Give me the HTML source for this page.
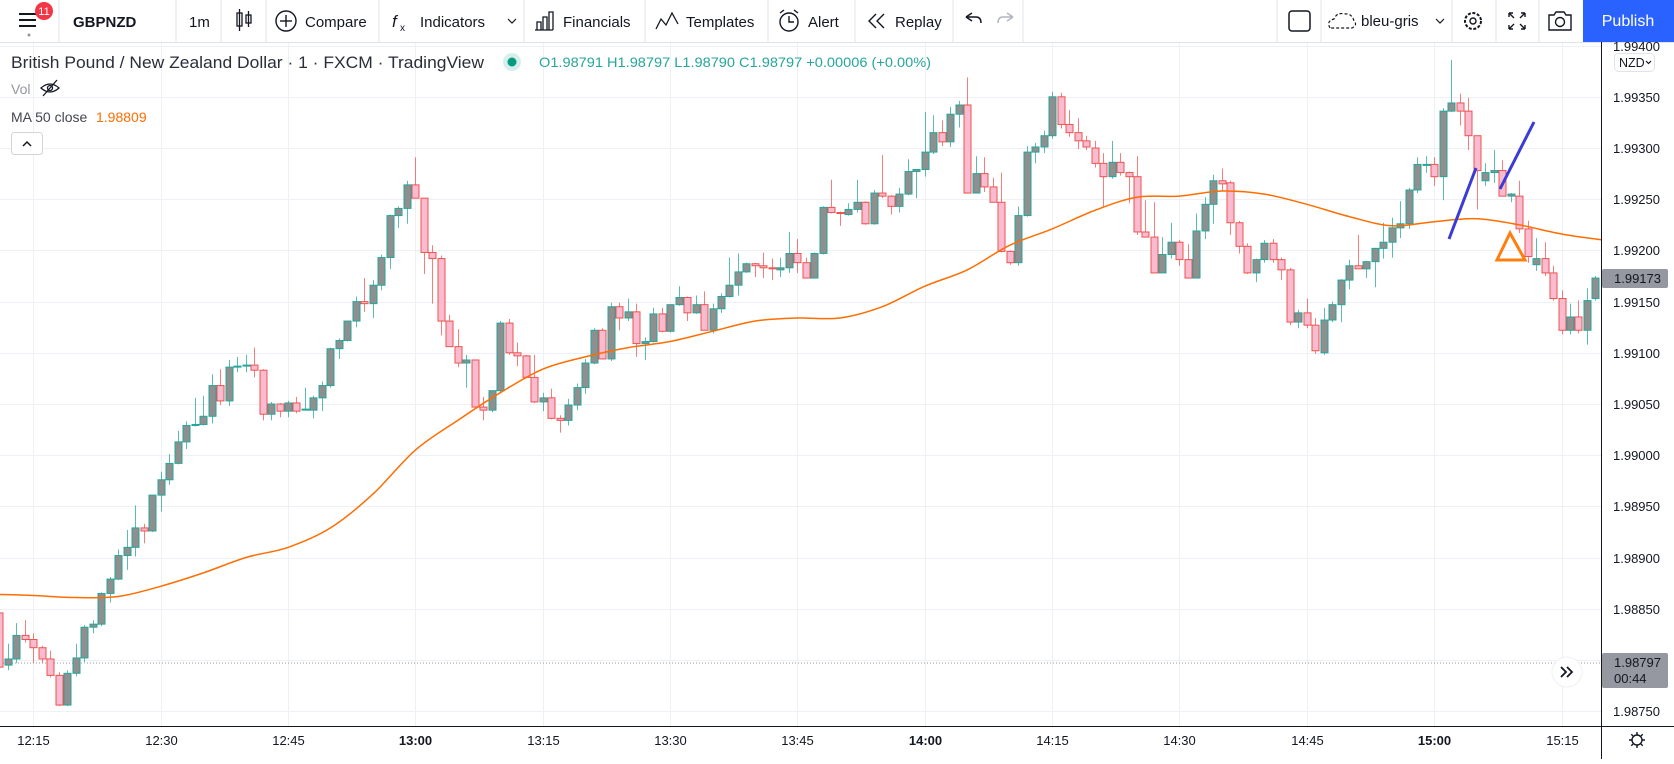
<!DOCTYPE html>
<html><head><meta charset="utf-8"><title>GBPNZD chart</title>
<style>
html,body{margin:0;padding:0;background:#fff;}
body{width:1674px;height:759px;overflow:hidden;font-family:"Liberation Sans",sans-serif;}
svg text{font-family:"Liberation Sans",sans-serif;}
</style></head>
<body>
<svg id="root" width="1674" height="759" viewBox="0 0 1674 759" xmlns="http://www.w3.org/2000/svg">
  <defs><clipPath id="plotclip"><rect x="0" y="43" width="1601" height="683"/></clipPath></defs>
  <g id="grid"></g>
  <line x1="0" y1="663" x2="1601" y2="663" stroke="#9598a1" stroke-width="1" stroke-dasharray="1 2"/>
  <g id="plot" clip-path="url(#plotclip)">
    <g id="candles"></g>
    <path id="ma" fill="none" stroke="#ff6d00" stroke-width="1.5"/>
    <line x1="1449" y1="239" x2="1476" y2="168" stroke="#3b3bd6" stroke-width="3"/>
    <line x1="1500" y1="189" x2="1534" y2="122" stroke="#3b3bd6" stroke-width="3"/>
    <polygon points="1510,233 1497,260 1525,260" fill="none" stroke="#ff7f0e" stroke-width="3"/>
  </g>

  <g>
    <rect x="0" y="0" width="1674" height="42" fill="#fff"/>
    <line x1="0" y1="42.5" x2="1674" y2="42.5" stroke="#e0e3eb"/>
    <g stroke="#e0e3eb">
      <line x1="59" y1="0" x2="59" y2="42"/><line x1="176" y1="0" x2="176" y2="42"/><line x1="221" y1="0" x2="221" y2="42"/>
      <line x1="266" y1="0" x2="266" y2="42"/><line x1="379" y1="0" x2="379" y2="42"/><line x1="524" y1="0" x2="524" y2="42"/>
      <line x1="645" y1="0" x2="645" y2="42"/><line x1="768" y1="0" x2="768" y2="42"/><line x1="855" y1="0" x2="855" y2="42"/>
      <line x1="953" y1="0" x2="953" y2="42"/><line x1="1023" y1="0" x2="1023" y2="42"/>
      <line x1="1277" y1="0" x2="1277" y2="42"/><line x1="1321" y1="0" x2="1321" y2="42"/><line x1="1452" y1="0" x2="1452" y2="42"/>
      <line x1="1496" y1="0" x2="1496" y2="42"/><line x1="1539" y1="0" x2="1539" y2="42"/>
    </g>
    <g>
      <line x1="19" y1="14" x2="36" y2="14" stroke="#131722" stroke-width="2"/>
      <line x1="19" y1="20" x2="36" y2="20" stroke="#131722" stroke-width="2"/>
      <line x1="19" y1="26" x2="36" y2="26" stroke="#131722" stroke-width="2"/>
      <circle cx="29" cy="35" r="1.5" fill="#9598a1"/>
      <circle cx="44" cy="11" r="9" fill="#f23645"/>
      <text x="44" y="15" font-size="11" fill="#fff" text-anchor="middle">11</text>
    </g>
    <text x="73" y="27" font-size="15" font-weight="bold" fill="#131722">GBPNZD</text>
    <text x="189" y="27" font-size="15" fill="#131722">1m</text>
    <g stroke="#131722" fill="none" stroke-width="1.3">
      <rect x="237" y="13" width="5" height="13"/><line x1="239.5" y1="9" x2="239.5" y2="31"/>
      <rect x="246" y="15" width="5" height="8"/><line x1="248.5" y1="11" x2="248.5" y2="27"/>
    </g>
    <g>
      <circle cx="286" cy="21" r="10" fill="none" stroke="#131722" stroke-width="1.4"/>
      <line x1="280" y1="21" x2="292" y2="21" stroke="#131722" stroke-width="1.4"/><line x1="286" y1="15" x2="286" y2="27" stroke="#131722" stroke-width="1.4"/>
      <text x="305" y="27" font-size="15" fill="#131722">Compare</text>
    </g>
    <g>
      <text x="392" y="27" font-size="17" font-style="italic" font-family="Liberation Serif" fill="#131722">f</text>
      <text x="400" y="31" font-size="10" fill="#131722">x</text>
      <text x="420" y="27" font-size="15" fill="#131722">Indicators</text>
      <path d="M508 19 L512 23 L516 19" fill="none" stroke="#131722" stroke-width="1.2"/>
    </g>
    <g>
      <path d="M535 30 H553 M537 30 V22 H541 V30 M543 30 V17 H547 V30 M549 30 V12 H553 V30" fill="none" stroke="#131722" stroke-width="1.3"/>
      <text x="563" y="27" font-size="15" fill="#131722">Financials</text>
    </g>
    <g>
      <path d="M656 29 L661 19 L666 25 L672 13 L678 24" fill="none" stroke="#131722" stroke-width="1.3"/>
      <text x="686" y="27" font-size="15" fill="#131722">Templates</text>
    </g>
    <g>
      <circle cx="789" cy="22" r="9" fill="none" stroke="#131722" stroke-width="1.4"/>
      <path d="M789 16 V22 H794 M780 13 L784 10 M798 13 L794 10" fill="none" stroke="#131722" stroke-width="1.4"/>
      <text x="808" y="27" font-size="15" fill="#131722">Alert</text>
    </g>
    <g>
      <path d="M876 14 L869 21 L876 28 M884 14 L877 21 L884 28" fill="none" stroke="#131722" stroke-width="1.4"/>
      <text x="895" y="27" font-size="15" fill="#131722">Replay</text>
    </g>
    <path d="M966 17 L972 13 M966 17 L972 21 M966 17 H976 Q981 17 981 23" fill="none" stroke="#131722" stroke-width="1.4"/>
    <path d="M1013 17 L1007 13 M1013 17 L1007 21 M1013 17 H1003 Q998 17 998 23" fill="none" stroke="#b2b5be" stroke-width="1.4"/>
    <rect x="1289" y="11" width="21" height="20" rx="3" fill="none" stroke="#131722" stroke-width="1.5"/>
    <g>
      <path d="M1330 28 Q1326 21 1334 19 Q1337 12 1344 14 Q1352 13 1354 21 Q1358 25 1352 28 Z" fill="none" stroke="#131722" stroke-width="1.2" stroke-dasharray="3 2"/>
      <text x="1361" y="26" font-size="15" fill="#131722">bleu-gris</text>
      <path d="M1436 19 L1440 23 L1444 19" fill="none" stroke="#131722" stroke-width="1.2"/>
    </g>
    <g>
      <circle cx="1473" cy="21" r="8" fill="none" stroke="#131722" stroke-width="2" stroke-dasharray="3 1.6"/>
      <circle cx="1473" cy="21" r="3" fill="none" stroke="#131722" stroke-width="1.4"/>
    </g>
    <path d="M1509 13 L1514 18 M1509 13 H1513 M1509 13 V17 M1525 13 L1520 18 M1525 13 H1521 M1525 13 V17 M1509 29 L1514 24 M1509 29 H1513 M1509 29 V25 M1525 29 L1520 24 M1525 29 H1521 M1525 29 V25" fill="none" stroke="#131722" stroke-width="1.4"/>
    <g>
      <path d="M1549 15 H1554 L1556 12 H1564 L1566 15 H1571 V30 H1549 Z" fill="none" stroke="#131722" stroke-width="1.4"/>
      <circle cx="1560" cy="22" r="4.5" fill="none" stroke="#131722" stroke-width="1.4"/>
    </g>
    <g>
      <rect x="1583" y="0" width="91" height="42" fill="#2962ff"/>
      <text x="1628" y="26" font-size="16" fill="#fff" text-anchor="middle">Publish</text>
    </g>
  </g>

  <g>
    <text x="11" y="68" font-size="17" fill="#2a2e39" textLength="473" lengthAdjust="spacingAndGlyphs">British Pound / New Zealand Dollar · 1 · FXCM · TradingView</text>
    <circle cx="512" cy="62" r="9" fill="#d7efea"/><circle cx="512" cy="62" r="4.5" fill="#089981"/>
    <text x="539" y="67" font-size="14" fill="#26a69a" textLength="392" lengthAdjust="spacingAndGlyphs">O1.98791 H1.98797 L1.98790 C1.98797 +0.00006 (+0.00%)</text>
    <text x="11" y="94" font-size="14" fill="#9598a1">Vol</text>
    <g fill="none" stroke="#131722" stroke-width="1.3">
      <path d="M41 88 Q50 80 59 88 Q50 96 41 88 Z"/><circle cx="50" cy="88" r="2.5"/><line x1="43" y1="96" x2="57" y2="80"/>
    </g>
    <text x="11" y="122" font-size="14" fill="#434651">MA 50 close</text>
    <text x="96" y="122" font-size="14" fill="#ff6d00">1.98809</text>
    <g>
      <rect x="11.5" y="132.5" width="31" height="22" rx="3" fill="#fff" stroke="#d1d4dc"/>
      <path d="M23 146 L27 142 L31 146" fill="none" stroke="#131722" stroke-width="1.5"/>
    </g>
  </g>

  <g>
    <line x1="1601.5" y1="42" x2="1601.5" y2="759" stroke="#131722" stroke-width="1"/>
    <g id="ylabels"></g>
    <g>
      <rect x="1614.5" y="53.5" width="40" height="18" rx="4" fill="#fff" stroke="#e0e3eb"/>
      <text x="1619" y="67" font-size="12.5" fill="#131722">NZD</text>
      <path d="M1646 61 L1648.5 63.5 L1651 61" fill="none" stroke="#131722" stroke-width="1.2"/>
    </g>
    <g>
      <rect x="1602" y="269" width="66" height="19" rx="2" fill="#9598a1"/>
      <text id="curPrice" x="1614" y="283" font-size="13" fill="#131722">1.99173</text>
    </g>
    <g>
      <rect x="1602" y="653" width="66" height="35" rx="2" fill="#9598a1"/>
      <text x="1614" y="667" font-size="13" fill="#131722">1.98797</text>
      <text x="1614" y="683" font-size="13" fill="#131722">00:44</text>
    </g>
  </g>
  <g>
    <line x1="0" y1="726.5" x2="1674" y2="726.5" stroke="#131722" stroke-width="1"/>
    <g id="xlabels"></g>
    <g>
      <circle cx="1637" cy="740" r="5" fill="none" stroke="#131722" stroke-width="1.4"/>
      <path d="M1637 732 V734.5 M1637 745.5 V748 M1629 740 H1631.5 M1642.5 740 H1645 M1631.3 734.3 L1633 736 M1641 744 L1642.7 745.7 M1642.7 734.3 L1641 736 M1633 744 L1631.3 745.7" stroke="#131722" stroke-width="1.4"/>
    </g>
  </g>
  <g>
    <circle cx="1567" cy="672" r="15" fill="#fff" stroke="#eef0f4"/>
    <path d="M1561 667 L1566 672 L1561 677 M1567 667 L1572 672 L1567 677" fill="none" stroke="#131722" stroke-width="1.8"/>
  </g>
</svg>
<script>
const startMinute = -4;
const opens = [1.98846,1.98795,1.98801,1.98824,1.98820,1.98812,1.98801,1.98785,1.98756,1.98787,1.98802,1.98832,1.98835,1.98865,1.98879,1.98902,1.98910,1.98929,1.98926,1.98961,1.98976,1.98992,1.99013,1.99029,1.99030,1.99038,1.99068,1.99053,1.99086,1.99087,1.99088,1.99083,1.99040,1.99050,1.99043,1.99051,1.99044,1.99044,1.99056,1.99068,1.99104,1.99112,1.99131,1.99150,1.99148,1.99166,1.99193,1.99234,1.99241,1.99264,1.99251,1.99198,1.99192,1.99131,1.99106,1.99090,1.99093,1.99047,1.99044,1.99063,1.99129,1.99100,1.99097,1.99076,1.99052,1.99056,1.99036,1.99034,1.99049,1.99066,1.99090,1.99122,1.99094,1.99145,1.99134,1.99140,1.99109,1.99111,1.99138,1.99121,1.99147,1.99154,1.99139,1.99147,1.99122,1.99143,1.99155,1.99166,1.99179,1.99187,1.99185,1.99183,1.99181,1.99183,1.99197,1.99188,1.99173,1.99197,1.99242,1.99237,1.99235,1.99240,1.99247,1.99226,1.99256,1.99253,1.99243,1.99255,1.99277,1.99279,1.99296,1.99315,1.99306,1.99333,1.99342,1.99256,1.99275,1.99262,1.99247,1.99199,1.99188,1.99234,1.99296,1.99301,1.99312,1.99350,1.99323,1.99315,1.99307,1.99300,1.99285,1.99272,1.99286,1.99276,1.99272,1.99218,1.99213,1.99178,1.99196,1.99208,1.99191,1.99173,1.99219,1.99245,1.99268,1.99266,1.99227,1.99204,1.99178,1.99191,1.99207,1.99191,1.99181,1.99130,1.99139,1.99127,1.99100,1.99132,1.99147,1.99171,1.99185,1.99182,1.99189,1.99202,1.99208,1.99222,1.99226,1.99259,1.99283,1.99284,1.99272,1.99336,1.99344,1.99336,1.99312,1.99268,1.99276,1.99278,1.99253,1.99253,1.99221,1.99186,1.99192,1.99178,1.99153,1.99122,1.99135,1.99122,1.99153];
const highs = [1.98851,1.98816,1.98836,1.98839,1.98826,1.98814,1.98809,1.98788,1.98790,1.98816,1.98834,1.98839,1.98866,1.98881,1.98908,1.98927,1.98951,1.98933,1.98961,1.98984,1.99001,1.99024,1.99033,1.99056,1.99058,1.99079,1.99084,1.99093,1.99096,1.99098,1.99105,1.99084,1.99052,1.99051,1.99053,1.99057,1.99066,1.99058,1.99072,1.99105,1.99114,1.99131,1.99155,1.99173,1.99171,1.99196,1.99235,1.99243,1.99268,1.99291,1.99251,1.99205,1.99195,1.99137,1.99123,1.99098,1.99093,1.99057,1.99063,1.99131,1.99133,1.99110,1.99098,1.99098,1.99061,1.99065,1.99039,1.99055,1.99070,1.99094,1.99124,1.99124,1.99149,1.99149,1.99153,1.99148,1.99115,1.99144,1.99144,1.99147,1.99165,1.99155,1.99156,1.99160,1.99148,1.99158,1.99193,1.99197,1.99188,1.99188,1.99198,1.99192,1.99193,1.99218,1.99211,1.99193,1.99198,1.99243,1.99269,1.99238,1.99246,1.99269,1.99248,1.99259,1.99293,1.99254,1.99261,1.99289,1.99279,1.99335,1.99332,1.99327,1.99340,1.99346,1.99369,1.99292,1.99291,1.99271,1.99276,1.99200,1.99243,1.99302,1.99305,1.99317,1.99355,1.99354,1.99337,1.99329,1.99312,1.99307,1.99295,1.99307,1.99295,1.99277,1.99292,1.99249,1.99247,1.99213,1.99227,1.99210,1.99206,1.99236,1.99252,1.99274,1.99280,1.99268,1.99229,1.99207,1.99192,1.99210,1.99211,1.99193,1.99183,1.99142,1.99153,1.99134,1.99144,1.99150,1.99172,1.99191,1.99215,1.99190,1.99202,1.99227,1.99232,1.99248,1.99261,1.99291,1.99292,1.99291,1.99339,1.99386,1.99353,1.99349,1.99312,1.99285,1.99298,1.99288,1.99256,1.99268,1.99229,1.99212,1.99208,1.99185,1.99161,1.99148,1.99151,1.99163,1.99175];
const lows = [1.98791,1.98790,1.98797,1.98817,1.98797,1.98797,1.98783,1.98755,1.98755,1.98784,1.98798,1.98826,1.98833,1.98856,1.98878,1.98888,1.98901,1.98914,1.98925,1.98945,1.98971,1.98991,1.99006,1.99028,1.99029,1.99031,1.99049,1.99048,1.99081,1.99081,1.99076,1.99034,1.99034,1.99037,1.99037,1.99041,1.99044,1.99036,1.99043,1.99066,1.99094,1.99111,1.99125,1.99140,1.99134,1.99161,1.99182,1.99222,1.99226,1.99251,1.99177,1.99148,1.99117,1.99106,1.99086,1.99066,1.99047,1.99034,1.99042,1.99061,1.99098,1.99087,1.99076,1.99051,1.99043,1.99035,1.99022,1.99029,1.99044,1.99060,1.99089,1.99094,1.99092,1.99122,1.99131,1.99096,1.99093,1.99110,1.99120,1.99120,1.99146,1.99131,1.99138,1.99122,1.99119,1.99139,1.99154,1.99156,1.99178,1.99174,1.99173,1.99171,1.99174,1.99178,1.99178,1.99173,1.99173,1.99196,1.99236,1.99224,1.99234,1.99237,1.99225,1.99225,1.99251,1.99235,1.99237,1.99254,1.99251,1.99272,1.99294,1.99302,1.99301,1.99320,1.99256,1.99256,1.99257,1.99247,1.99198,1.99186,1.99185,1.99233,1.99285,1.99295,1.99309,1.99319,1.99311,1.99299,1.99298,1.99281,1.99242,1.99270,1.99273,1.99246,1.99215,1.99213,1.99178,1.99178,1.99192,1.99185,1.99173,1.99173,1.99211,1.99226,1.99258,1.99215,1.99197,1.99177,1.99169,1.99188,1.99188,1.99171,1.99127,1.99124,1.99124,1.99099,1.99098,1.99130,1.99130,1.99162,1.99182,1.99173,1.99164,1.99192,1.99193,1.99212,1.99221,1.99256,1.99276,1.99263,1.99249,1.99335,1.99322,1.99298,1.99240,1.99263,1.99266,1.99253,1.99247,1.99217,1.99188,1.99180,1.99175,1.99151,1.99118,1.99118,1.99119,1.99108,1.99151];
const closes = [1.98793,1.98801,1.98824,1.98820,1.98812,1.98801,1.98785,1.98756,1.98787,1.98802,1.98832,1.98835,1.98865,1.98879,1.98902,1.98910,1.98929,1.98926,1.98961,1.98976,1.98992,1.99013,1.99029,1.99030,1.99038,1.99068,1.99053,1.99086,1.99087,1.99088,1.99083,1.99040,1.99050,1.99043,1.99051,1.99043,1.99045,1.99056,1.99068,1.99104,1.99112,1.99131,1.99150,1.99148,1.99166,1.99193,1.99234,1.99241,1.99264,1.99251,1.99198,1.99192,1.99131,1.99106,1.99090,1.99093,1.99047,1.99044,1.99063,1.99129,1.99100,1.99097,1.99076,1.99052,1.99056,1.99036,1.99034,1.99049,1.99066,1.99090,1.99122,1.99094,1.99145,1.99134,1.99140,1.99109,1.99111,1.99138,1.99121,1.99147,1.99154,1.99139,1.99147,1.99122,1.99143,1.99155,1.99166,1.99179,1.99187,1.99185,1.99183,1.99182,1.99183,1.99197,1.99188,1.99173,1.99197,1.99242,1.99237,1.99236,1.99240,1.99247,1.99226,1.99256,1.99253,1.99243,1.99255,1.99277,1.99279,1.99296,1.99315,1.99306,1.99333,1.99342,1.99256,1.99275,1.99262,1.99247,1.99199,1.99188,1.99234,1.99296,1.99301,1.99312,1.99350,1.99323,1.99315,1.99307,1.99301,1.99285,1.99272,1.99286,1.99276,1.99272,1.99218,1.99213,1.99178,1.99196,1.99208,1.99191,1.99173,1.99219,1.99245,1.99268,1.99265,1.99227,1.99204,1.99178,1.99191,1.99207,1.99191,1.99181,1.99130,1.99139,1.99127,1.99102,1.99132,1.99147,1.99171,1.99185,1.99182,1.99189,1.99202,1.99208,1.99222,1.99226,1.99259,1.99284,1.99284,1.99272,1.99336,1.99344,1.99336,1.99312,1.99278,1.99276,1.99278,1.99253,1.99255,1.99221,1.99194,1.99192,1.99178,1.99153,1.99122,1.99135,1.99122,1.99151,1.99173];
const maMinutes = [-4,0,5,10,15,20,25,30,35,40,45,50,55,60,65,70,75,80,85,90,95,100,105,110,115,120,125,130,135,140,145,150,155,160,165,170,175,180,185];
const maValues = [1.98864,1.98863,1.98861,1.98862,1.98872,1.98885,1.98900,1.98910,1.98929,1.98962,1.99005,1.99034,1.99061,1.99084,1.99096,1.99105,1.99111,1.99121,1.99131,1.99134,1.99134,1.99145,1.99165,1.99181,1.99205,1.99221,1.99239,1.99252,1.99253,1.99258,1.99255,1.99245,1.99233,1.99224,1.99228,1.99231,1.99225,1.99216,1.99210];
const priceTicks = ["1.99400","1.99350","1.99300","1.99250","1.99200","1.99150","1.99100","1.99050","1.99000","1.98950","1.98900","1.98850","1.98800","1.98750"];
const timeTicks = ["12:15","12:30","12:45","13:00","13:15","13:30","13:45","14:00","14:15","14:30","14:45","15:00","15:15"];
const timeTickMinutes = [0,15,30,45,60,75,90,105,120,135,150,165,180];

const NS = "http://www.w3.org/2000/svg";
function yOf(p){ return 45.6 + (1.994 - p) * 102400; }
function xOfMin(m){ return 33.3 + 8.49 * m; }
function mk(tag, attrs, parent){ const e=document.createElementNS(NS,tag); for(const k in attrs) e.setAttribute(k,attrs[k]); parent.appendChild(e); return e; }

const grid = document.getElementById('grid');
priceTicks.forEach(function(t){
  const y = Math.round(yOf(parseFloat(t))) + 0.5;
  const l = mk('line',{x1:0,x2:1601,y1:y,y2:y,stroke:'#edf0f5','stroke-width':1},grid);
  
  
  if (y > 42 && y < 726) {
    const tx = mk('text',{x:1613,y:y+4.5,'font-size':13,fill:'#131722'},document.getElementById('ylabels'));
    tx.textContent = t;
    
    
  }
});
timeTicks.forEach(function(t,i){
  const x = Math.round(xOfMin(timeTickMinutes[i])) + 0.5;
  const l = mk('line',{x1:x,x2:x,y1:43,y2:726,stroke:'#edf0f5','stroke-width':1},grid);
  
  
  const bold = t.endsWith(':00');
  const tx = mk('text',{x:x,y:745,'font-size':13,fill:'#131722','text-anchor':'middle','font-weight':bold?'bold':'normal'},document.getElementById('xlabels'));
  tx.textContent = t;
  
  
});

const cg = document.getElementById('candles');
for (let i=0;i<opens.length;i++){
  const o=opens[i],h=highs[i],l=lows[i],c=closes[i];
  const up = c >= o;
  const x = xOfMin(startMinute + i);
  const g = mk('g',{},cg);
  
  
  const xc = Math.round(x) + 0.5;
  mk('line',{x1:xc,x2:xc,y1:yOf(h),y2:yOf(l),stroke: up ? '#26a69a' : '#ef5350','stroke-opacity':0.75,'stroke-width':1},g);
  const top = yOf(Math.max(o,c)), bot = yOf(Math.min(o,c));
  mk('rect',{x:xc-3.5,y:top,width:7,height:Math.max(1,bot-top),fill: up ? '#8f8f8f' : '#f8bbd0',stroke: up ? '#26a69a' : '#ef5350','stroke-width':1},g);
}

// smooth MA path (Catmull-Rom through data points)
const pts = maMinutes.map(function(m,i){ return [xOfMin(m), yOf(maValues[i])]; });
let d = 'M' + pts[0][0].toFixed(1) + ' ' + pts[0][1].toFixed(1);
for (let i=0;i<pts.length-1;i++){
  const p0 = pts[Math.max(0,i-1)], p1 = pts[i], p2 = pts[i+1], p3 = pts[Math.min(pts.length-1,i+2)];
  const c1x = p1[0] + (p2[0]-p0[0])/6, c1y = p1[1] + (p2[1]-p0[1])/6;
  const c2x = p2[0] - (p3[0]-p1[0])/6, c2y = p2[1] - (p3[1]-p1[1])/6;
  d += ' C' + c1x.toFixed(1) + ' ' + c1y.toFixed(1) + ' ' + c2x.toFixed(1) + ' ' + c2y.toFixed(1) + ' ' + p2[0].toFixed(1) + ' ' + p2[1].toFixed(1);
}
document.getElementById('ma').setAttribute('d', d);
</script>
</body></html>
